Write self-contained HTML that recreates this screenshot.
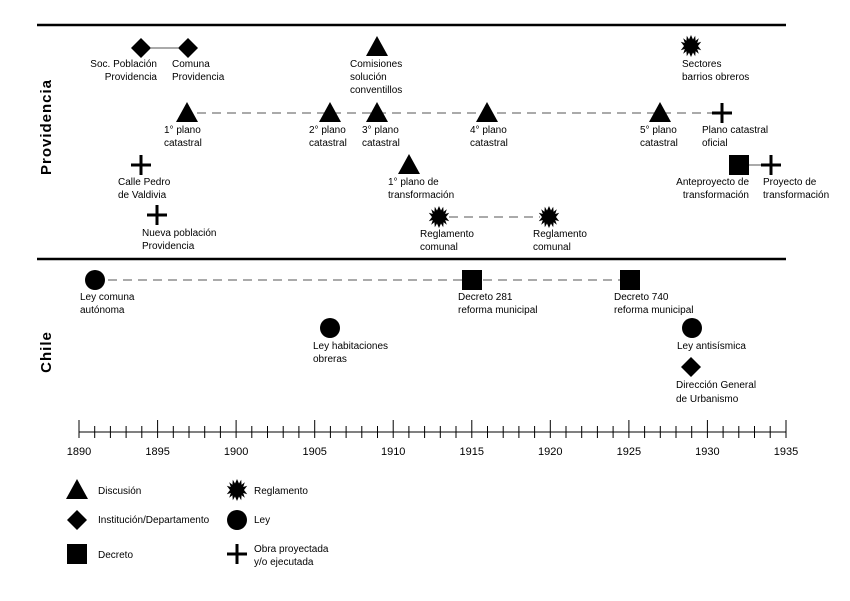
<!DOCTYPE html>
<html><head><meta charset="utf-8"><style>
html,body{margin:0;padding:0;background:#fff;}
svg text{font-family:"Liberation Sans",sans-serif;font-size:10px;fill:#000;}
</style></head><body>
<svg width="850" height="596" viewBox="0 0 850 596" xmlns="http://www.w3.org/2000/svg">
<defs>
<polygon id="tri" points="0,-11 11,9 -11,9" fill="#000"/>
<polygon id="dia" points="0,-10 10,0 0,10 -10,0" fill="#000"/>
<rect id="sq" x="-10" y="-10" width="20" height="20" fill="#000"/>
<circle id="cir" r="10" fill="#000"/>
<path id="plus" d="M-10,0H10M0,-10V10" stroke="#000" stroke-width="3"/>
<polygon id="star" fill="#000" points="0,-11 2,-6.5 4.2,-10.2 4.6,-5.3 7.8,-7.8 6.2,-3 10.2,-4.2 7,0 10.2,4.2 6.2,3 7.8,7.8 4.6,5.3 4.2,10.2 2,6.5 0,11 -2,6.5 -4.2,10.2 -4.6,5.3 -7.8,7.8 -6.2,3 -10.2,4.2 -7,0 -10.2,-4.2 -6.2,-3 -7.8,-7.8 -4.6,-5.3 -4.2,-10.2 -2,-6.5"/>
</defs>
<g stroke="#000" stroke-width="2.5">
<line x1="37" y1="25" x2="786" y2="25"/>
<line x1="37" y1="259" x2="786" y2="259"/>
</g>
<g stroke="#555" stroke-width="1" stroke-dasharray="9,6">
<line x1="197" y1="113" x2="715" y2="113"/>
<line x1="449" y1="217" x2="540" y2="217"/>
<line x1="108" y1="280" x2="462" y2="280"/>
<line x1="483" y1="280" x2="620" y2="280"/>
</g>
<g stroke="#555" stroke-width="1">
<line x1="151" y1="48" x2="178" y2="48"/>
<line x1="749" y1="165" x2="762" y2="165"/>
</g>
<text transform="translate(51,127) rotate(-90)" text-anchor="middle" style="font-size:15px;font-weight:bold;letter-spacing:1px">Providencia</text>
<text transform="translate(51,352) rotate(-90)" text-anchor="middle" style="font-size:15px;font-weight:bold;letter-spacing:1px">Chile</text>
<use href="#dia" x="141" y="48"/><use href="#dia" x="188" y="48"/>
<text x="157" y="67" text-anchor="end">Soc. Población</text><text x="157" y="80" text-anchor="end">Providencia</text>
<text x="172" y="67">Comuna</text><text x="172" y="80">Providencia</text>
<use href="#tri" x="377" y="47"/>
<text x="350" y="67">Comisiones</text><text x="350" y="80">solución</text><text x="350" y="93">conventillos</text>
<use href="#star" x="691" y="46"/>
<text x="682" y="67">Sectores</text><text x="682" y="80">barrios obreros</text>
<use href="#tri" x="187" y="113"/><use href="#tri" x="330" y="113"/><use href="#tri" x="377" y="113"/><use href="#tri" x="487" y="113"/><use href="#tri" x="660" y="113"/>
<use href="#plus" x="722" y="113"/>
<text x="164" y="133">1° plano</text><text x="164" y="146">catastral</text>
<text x="309" y="133">2° plano</text><text x="309" y="146">catastral</text>
<text x="362" y="133">3° plano</text><text x="362" y="146">catastral</text>
<text x="470" y="133">4° plano</text><text x="470" y="146">catastral</text>
<text x="640" y="133">5° plano</text><text x="640" y="146">catastral</text>
<text x="702" y="133">Plano catastral</text><text x="702" y="146">oficial</text>
<use href="#plus" x="141" y="165"/>
<text x="118" y="185">Calle Pedro</text><text x="118" y="198">de Valdivia</text>
<use href="#tri" x="409" y="165"/>
<text x="388" y="185">1° plano de</text><text x="388" y="198">transformación</text>
<use href="#sq" x="739" y="165"/><use href="#plus" x="771" y="165"/>
<text x="749" y="185" text-anchor="end">Anteproyecto de</text><text x="749" y="198" text-anchor="end">transformación</text>
<text x="763" y="185">Proyecto de</text><text x="763" y="198">transformación</text>
<use href="#plus" x="157" y="215"/>
<text x="142" y="236">Nueva población</text><text x="142" y="249">Providencia</text>
<use href="#star" x="439" y="217"/><use href="#star" x="549" y="217"/>
<text x="420" y="237">Reglamento</text><text x="420" y="250">comunal</text>
<text x="533" y="237">Reglamento</text><text x="533" y="250">comunal</text>
<use href="#cir" x="95" y="280"/>
<text x="80" y="300">Ley comuna</text><text x="80" y="313">autónoma</text>
<use href="#sq" x="472" y="280"/>
<text x="458" y="300">Decreto 281</text><text x="458" y="313">reforma municipal</text>
<use href="#sq" x="630" y="280"/>
<text x="614" y="300">Decreto 740</text><text x="614" y="313">reforma municipal</text>
<use href="#cir" x="330" y="328"/>
<text x="313" y="349">Ley habitaciones</text><text x="313" y="362">obreras</text>
<use href="#cir" x="692" y="328"/>
<text x="677" y="349">Ley antisísmica</text>
<use href="#dia" x="691" y="367"/>
<text x="676" y="388">Dirección General</text><text x="676" y="402">de Urbanismo</text>
<g stroke="#000" stroke-width="1">
<line x1="79" y1="432" x2="786" y2="432"/>
</g>
<g id="ticks" stroke="#000" stroke-width="1"></g>
<g id="yl"></g>
<use href="#tri" x="77" y="490"/><text x="98" y="494">Discusión</text>
<use href="#dia" x="77" y="520"/><text x="98" y="523">Institución/Departamento</text>
<use href="#sq" x="77" y="554"/><text x="98" y="558">Decreto</text>
<use href="#star" x="237" y="490"/><text x="254" y="494">Reglamento</text>
<use href="#cir" x="237" y="520"/><text x="254" y="523">Ley</text>
<use href="#plus" x="237" y="554"/><text x="254" y="552">Obra proyectada</text><text x="254" y="565">y/o ejecutada</text>
<g stroke="#000" stroke-width="1">
<line x1="79" y1="420" x2="79" y2="438"/><line x1="94.7" y1="426" x2="94.7" y2="438"/><line x1="110.4" y1="426" x2="110.4" y2="438"/><line x1="126.1" y1="426" x2="126.1" y2="438"/><line x1="141.8" y1="426" x2="141.8" y2="438"/>
<line x1="157.6" y1="420" x2="157.6" y2="438"/><line x1="173.3" y1="426" x2="173.3" y2="438"/><line x1="189" y1="426" x2="189" y2="438"/><line x1="204.7" y1="426" x2="204.7" y2="438"/><line x1="220.4" y1="426" x2="220.4" y2="438"/>
<line x1="236.1" y1="420" x2="236.1" y2="438"/><line x1="251.8" y1="426" x2="251.8" y2="438"/><line x1="267.5" y1="426" x2="267.5" y2="438"/><line x1="283.2" y1="426" x2="283.2" y2="438"/><line x1="298.9" y1="426" x2="298.9" y2="438"/>
<line x1="314.7" y1="420" x2="314.7" y2="438"/><line x1="330.4" y1="426" x2="330.4" y2="438"/><line x1="346.1" y1="426" x2="346.1" y2="438"/><line x1="361.8" y1="426" x2="361.8" y2="438"/><line x1="377.5" y1="426" x2="377.5" y2="438"/>
<line x1="393.2" y1="420" x2="393.2" y2="438"/><line x1="408.9" y1="426" x2="408.9" y2="438"/><line x1="424.6" y1="426" x2="424.6" y2="438"/><line x1="440.3" y1="426" x2="440.3" y2="438"/><line x1="456" y1="426" x2="456" y2="438"/>
<line x1="471.8" y1="420" x2="471.8" y2="438"/><line x1="487.5" y1="426" x2="487.5" y2="438"/><line x1="503.2" y1="426" x2="503.2" y2="438"/><line x1="518.9" y1="426" x2="518.9" y2="438"/><line x1="534.6" y1="426" x2="534.6" y2="438"/>
<line x1="550.3" y1="420" x2="550.3" y2="438"/><line x1="566" y1="426" x2="566" y2="438"/><line x1="581.7" y1="426" x2="581.7" y2="438"/><line x1="597.4" y1="426" x2="597.4" y2="438"/><line x1="613.1" y1="426" x2="613.1" y2="438"/>
<line x1="628.9" y1="420" x2="628.9" y2="438"/><line x1="644.6" y1="426" x2="644.6" y2="438"/><line x1="660.3" y1="426" x2="660.3" y2="438"/><line x1="676" y1="426" x2="676" y2="438"/><line x1="691.7" y1="426" x2="691.7" y2="438"/>
<line x1="707.4" y1="420" x2="707.4" y2="438"/><line x1="723.1" y1="426" x2="723.1" y2="438"/><line x1="738.8" y1="426" x2="738.8" y2="438"/><line x1="754.5" y1="426" x2="754.5" y2="438"/><line x1="770.2" y1="426" x2="770.2" y2="438"/>
<line x1="786" y1="420" x2="786" y2="438"/>
</g>
<g style="font-size:11px" text-anchor="middle">
<text x="79" y="455" style="font-size:11px">1890</text><text x="157.6" y="455" style="font-size:11px">1895</text><text x="236.1" y="455" style="font-size:11px">1900</text><text x="314.7" y="455" style="font-size:11px">1905</text><text x="393.2" y="455" style="font-size:11px">1910</text><text x="471.8" y="455" style="font-size:11px">1915</text><text x="550.3" y="455" style="font-size:11px">1920</text><text x="628.9" y="455" style="font-size:11px">1925</text><text x="707.4" y="455" style="font-size:11px">1930</text><text x="786" y="455" style="font-size:11px">1935</text>
</g>
</svg>
</body></html>
